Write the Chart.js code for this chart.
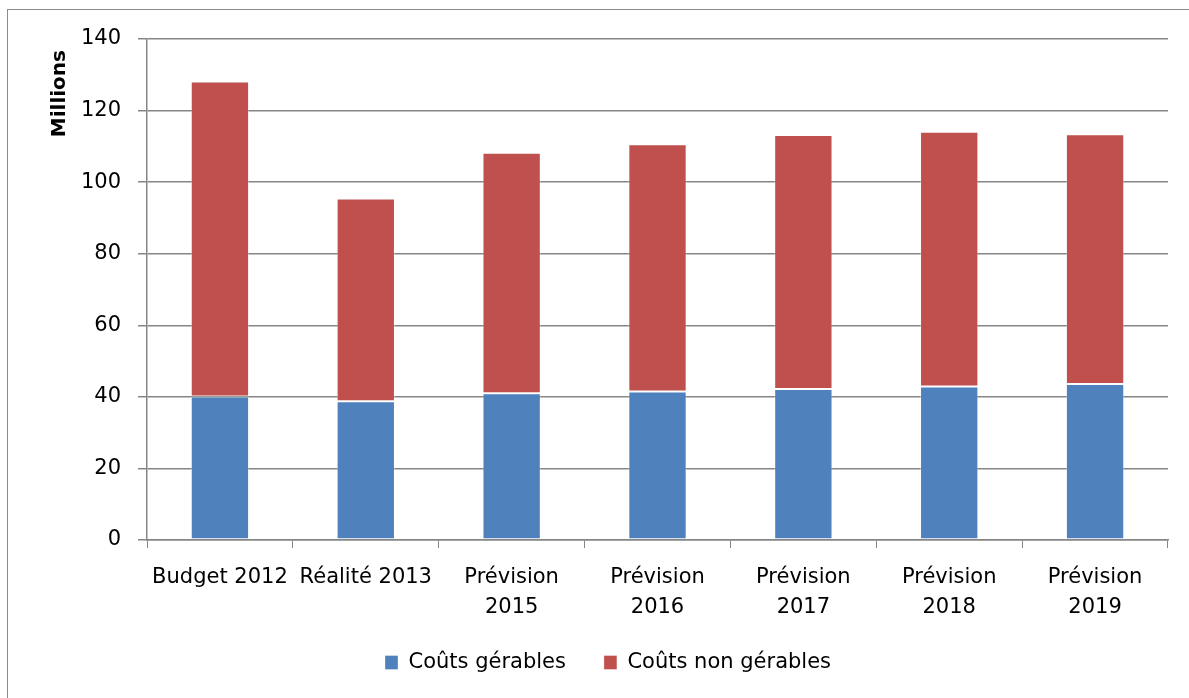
<!DOCTYPE html>
<html>
<head>
<meta charset="utf-8">
<script src="https://cdn.jsdelivr.net/npm/chart.js@4.4.1/dist/chart.umd.min.js"></script>
<style>
  html, body { margin: 0; padding: 0; background: #fff; }
  #wrap { position: relative; width: 1189px; height: 698px; overflow: hidden; }
  #frame { position: absolute; left: 7px; top: 9px; width: 1200px; height: 720px; border: 1px solid #8c8c8c; box-sizing: border-box; }
  canvas { position: absolute; left: 0; top: 0; }
</style>
</head>
<body>
<div id="wrap">
  <div id="frame"></div>
  <canvas id="c" width="1189" height="698"></canvas>
</div>
<script>
// catégories et valeurs (millions)
var categories = [
  ['Budget 2012'],
  ['Réalité 2013'],
  ['Prévision', '2015'],
  ['Prévision', '2016'],
  ['Prévision', '2017'],
  ['Prévision', '2018'],
  ['Prévision', '2019']
];
var coutsGerables    = [40.1, 38.8, 41.0, 41.5, 42.2, 42.9, 43.6];
var coutsNonGerables = [88.0, 56.6, 67.2, 69.1, 71.0, 71.2, 69.8];
var yTicks = [0, 20, 40, 60, 80, 100, 120, 140];
var yTitle = 'Millions';

var BLUE = '#4F81BD', RED = '#C0504D', GRID = '#868686', TXT = '#000';
var FONT = "'DejaVu Sans', 'Open Sans', sans-serif";

Chart.defaults.font.family = FONT;
Chart.defaults.color = TXT;

// titre de l'axe Y, calé en haut de l'axe (comme Excel)
var yTitlePlugin = {
  id: 'yTitle',
  afterDraw: function (chart) {
    var ca = chart.chartArea, ctx = chart.ctx;
    ctx.save();
    ctx.translate(ca.left - 87, ca.top + 11);
    ctx.rotate(-Math.PI / 2);
    ctx.font = 'bold 20px ' + FONT;
    ctx.fillStyle = TXT;
    ctx.textAlign = 'right';
    ctx.textBaseline = 'middle';
    ctx.fillText(yTitle, 0, 0);
    ctx.restore();
  }
};

new Chart(document.getElementById('c'), {
  type: 'bar',
  data: {
    labels: categories,
    datasets: [
      { label: 'Coûts gérables', data: coutsGerables, backgroundColor: BLUE,
        borderColor: 'rgba(255,255,255,0.35)', borderWidth: 1, borderSkipped: false,
        categoryPercentage: 1, barPercentage: 0.4 },
      { label: 'Coûts non gérables', data: coutsNonGerables, backgroundColor: RED,
        borderColor: 'rgba(255,255,255,0.35)', borderWidth: 1, borderSkipped: false,
        categoryPercentage: 1, barPercentage: 0.4 }
    ]
  },
  options: {
    responsive: false,
    animation: false,
    devicePixelRatio: 1,
    layout: { padding: { top: 39, right: 21, left: 48, bottom: 24 } },
    plugins: {
      legend: {
        position: 'bottom',
        maxHeight: 60,
        labels: { boxWidth: 13, boxHeight: 14, padding: 38, font: { size: 21 }, color: TXT }
      },
      tooltip: { enabled: false }
    },
    scales: {
      x: {
        stacked: true,
        afterFit: function (s) { s.height = 74; },
        grid: { offset: true, drawOnChartArea: false, drawTicks: true, tickLength: 8, color: GRID, lineWidth: 1 },
        border: { color: GRID, width: 1.5 },
        ticks: { padding: 15, font: { size: 21, lineHeight: 1.43 }, color: TXT, maxRotation: 0, autoSkip: false }
      },
      y: {
        stacked: true,
        min: 0, max: 140,
        afterFit: function (s) { s.width = 99; },
        afterBuildTicks: function (s) { s.ticks = yTicks.map(function (v) { return { value: v }; }); },
        grid: { color: GRID, lineWidth: 1.5, tickLength: 9 },
        border: { color: GRID, width: 1.5 },
        ticks: { padding: 17, font: { size: 21 }, color: TXT },
        title: { display: false }
      }
    }
  },
  plugins: [yTitlePlugin]
});
</script>
</body>
</html>
